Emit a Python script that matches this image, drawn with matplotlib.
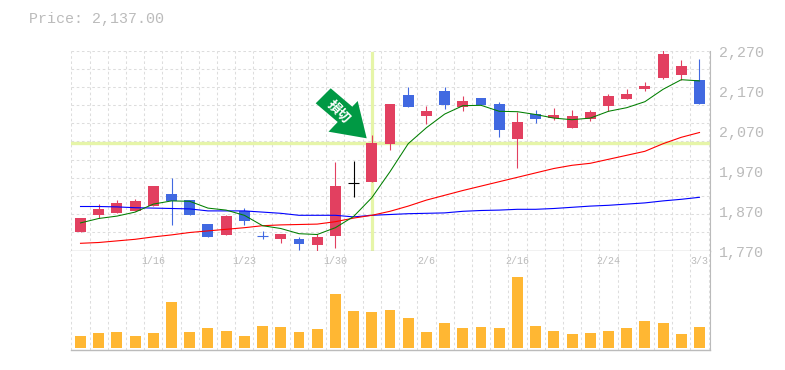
import numpy as np
import matplotlib
matplotlib.use('Agg')
import matplotlib.pyplot as plt
from matplotlib.patches import Polygon
from matplotlib.transforms import Affine2D

W, H = 785, 370

dates = {4: '1/16', 9: '1/23', 14: '1/30', 19: '2/6', 24: '2/16', 29: '2/24', 34: '3/3'}
price_ticks = [1770, 1870, 1970, 2070, 2170, 2270]

opens = [1816, 1858, 1863, 1868, 1881, 1911, 1896, 1836, 1808, 1868, 1806, 1798, 1798, 1783, 1806, 1940, 1941, 2036,
         2158, 2106, 2168, 2128, 2151, 2136, 2048, 2111, 2102, 2076, 2098, 2131, 2148, 2173, 2201, 2208, 2196]
closes = [1851, 1873, 1888, 1893, 1931, 1893, 1858, 1803, 1856, 1843, 1806, 1811, 1786, 1803, 1931, 1940, 2038, 2136,
          2128, 2118, 2133, 2143, 2133, 2071, 2091, 2098, 2108, 2106, 2116, 2156, 2161, 2181, 2261, 2231, 2136]
highs = [1851, 1886, 1896, 1898, 1931, 1951, 1896, 1836, 1858, 1876, 1818, 1811, 1803, 1811, 1991, 1993, 2058, 2136,
         2178, 2131, 2178, 2156, 2151, 2141, 2116, 2121, 2126, 2121, 2121, 2161, 2173, 2191, 2271, 2246, 2248]
lows = [1816, 1851, 1863, 1868, 1881, 1833, 1858, 1803, 1808, 1833, 1798, 1788, 1771, 1768, 1776, 1903, 1941, 2021,
        2128, 2086, 2123, 2118, 2133, 2053, 1976, 2088, 2096, 2076, 2093, 2118, 2148, 2168, 2198, 2196, 2136]
# doji colours: index 10 is blue, index 15 is black
doji = {10: '#4169e1', 15: '#000000'}

volume = [12, 15, 16, 12, 15, 46, 16, 20, 17, 12, 22, 21, 16, 19, 54, 37, 36, 38,
          30, 16, 25, 20, 21, 20, 71, 22, 17, 14, 15, 17, 20, 27, 25, 14, 21]

ma_short = [1839, 1850, 1856, 1866, 1886, 1894, 1893, 1876, 1871, 1858, 1832, 1825, 1812, 1810, 1827, 1855, 1902, 1967,
            2037, 2077, 2111, 2132, 2133, 2118, 2117, 2110, 2101, 2097, 2101, 2118, 2127, 2142, 2173, 2197, 2194]
ma_mid = [1788, 1790, 1794, 1798, 1804, 1809, 1815, 1819, 1823, 1827, 1832, 1834, 1835, 1836, 1842, 1851, 1858, 1868,
          1881, 1896, 1908, 1920, 1931, 1942, 1953, 1964, 1975, 1983, 1988, 1998, 2008, 2018, 2037, 2053, 2065]
ma_long = [1880, 1880, 1879, 1877, 1876, 1875, 1874, 1869, 1869, 1869, 1866, 1863, 1858, 1858, 1858, 1854, 1858, 1860,
           1862, 1863, 1864, 1868, 1870, 1871, 1873, 1873, 1875, 1878, 1881, 1883, 1886, 1889, 1894, 1898, 1903]

cross_x = 16
cross_y = 2038

RED = '#e24060'
BLUE = '#4169e1'
GRAY = '#bbbbbb'
GRID = '#dddddd'
CROSS = '#e6f5a8'
mono = ['Liberation Mono', 'DejaVu Sans Mono']

fig = plt.figure(figsize=(W / 100, H / 100), dpi=100)


def box(x0, y0, x1, y1):
    return [x0 / W, 1 - y1 / H, (x1 - x0) / W, (y1 - y0) / H]


ax = fig.add_axes(box(70.5, 50.5, 709.5, 250.5))
vol = fig.add_axes(box(70.5, 250.5, 709.5, 349.5))
xlim = (-0.55, 34.55)
slots = np.arange(36) - 0.5

for a in (ax, vol):
    a.set_xlim(xlim)
    a.vlines(slots, 0, 1, transform=a.get_xaxis_transform(), color=GRID, lw=0.75, ls=(0, (2.5, 2.5)), zorder=0)
    a.set_xticks([])
    a.set_yticks([])
    for s in a.spines.values():
        s.set_visible(False)
    a.spines['right'].set_visible(True)
    a.spines['right'].set_color(GRAY)
    a.spines['bottom'].set_visible(True)
    a.spines['bottom'].set_color(GRAY)
    a.spines['bottom'].set_linewidth(1.0)

ax.set_ylim(1770, 2270)
h_grid = np.linspace(1770, 2270, 12)[1:]
ax.hlines(h_grid, 0, 1, transform=ax.get_yaxis_transform(), color=GRID, lw=0.75, ls=(0, (2.5, 2.5)), zorder=0)

ax.axvline(cross_x, color=CROSS, lw=2.3, ymax=0.99, zorder=1)
ax.axhline(cross_y, color=CROSS, lw=2.4, zorder=1)

for i in range(len(opens)):
    o, c, hi, lo = opens[i], closes[i], highs[i], lows[i]
    if i in doji:
        col = doji[i]
        ax.vlines(i, lo, hi, color=col, lw=0.8, zorder=3, snap=True)
        ax.hlines(o, i - 0.3, i + 0.3, color=col, lw=0.8, zorder=3, snap=True)
        continue
    col = RED if c > o else BLUE
    ax.vlines(i, lo, hi, color=col, lw=0.8, zorder=3, snap=True)
    ax.bar(i, abs(c - o), bottom=min(o, c), width=0.6, color=col, lw=0, zorder=3)

x = np.arange(len(opens))
ax.plot(x, ma_long, color='#0000ff', lw=0.8, zorder=4)
ax.plot(x, ma_mid, color='#ff0000', lw=0.8, zorder=4)
ax.plot(x, ma_short, color='#007f00', lw=0.75, zorder=4)

# green arrow, placed in figure pixels
arrow = [(330.7, 88.3), (315.7, 103.3), (337.7, 122), (328.5, 131.7), (366.7, 138.3), (357.7, 101), (352.3, 106.7)]
fig_px = Affine2D().scale(1, -1).translate(0, H)
ax.add_patch(Polygon(arrow, closed=True, facecolor='#009944', edgecolor='none',
                     transform=fig_px, zorder=6, clip_on=False))
fig.text(338.5 / W, 1 - 111.5 / H, '損切', color='white', fontsize=9.5, fontweight='bold',
         family=['Noto Sans CJK JP', 'DejaVu Sans'], rotation=-45, rotation_mode='anchor',
         ha='center', va='center', zorder=7)

vol.set_ylim(-1.2, 98)
vol.bar(x, volume, width=0.6, color='#ffb733', lw=0, zorder=3)

fig.text(29 / W, 1 - 18.5 / H, 'Price: 2,137.00', color=GRAY, fontsize=10.8, family=mono, va='center', ha='left')
for p in price_ticks:
    y = ax.transData.transform((0, p))[1]
    fig.text(719 / W, (y - 2.4) / H, format(p, ','), color=GRAY, fontsize=10.8, family=mono, va='center', ha='left')
for i, label in dates.items():
    px = ax.transData.transform((i, 0))[0]
    fig.text(px / W, 1 - 261.5 / H, label, color=GRAY, fontsize=7.2, family=mono, va='center', ha='center')

fig.savefig('out.png', dpi=100)
